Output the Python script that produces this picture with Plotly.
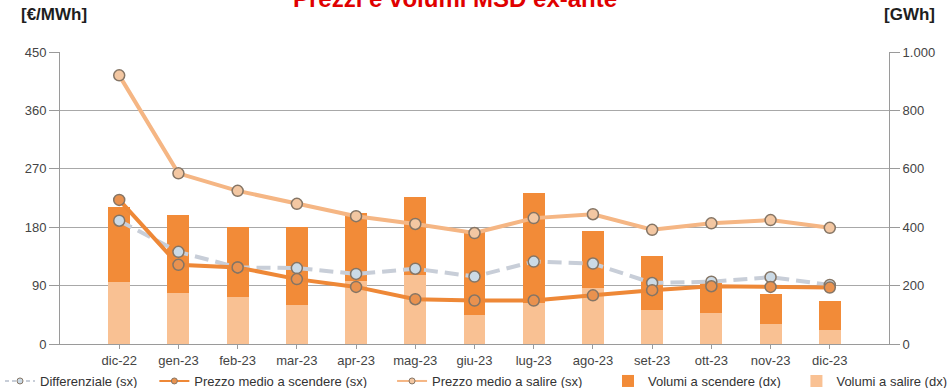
import plotly.graph_objects as go

# Monthly MSD ex-ante data
mesi = ["dic-22", "gen-23", "feb-23", "mar-23", "apr-23", "mag-23", "giu-23",
        "lug-23", "ago-23", "set-23", "ott-23", "nov-23", "dic-23"]

# Prices [€/MWh] (left axis)
prezzo_salire = [414, 263, 236, 216, 197, 185, 171, 194, 200, 176, 186, 191, 179]
prezzo_scendere = [222, 122, 118, 100, 88, 69, 67, 67, 75, 83, 89, 88, 87]
differenziale = [190, 142, 118, 117, 108, 116, 104, 127, 124, 94, 96, 103, 91]

# Volumes [GWh] (right axis)
volumi_salire = [212, 175, 161, 134, 216, 236, 99, 140, 192, 116, 106, 70, 48]
volumi_scendere = [257, 268, 241, 268, 233, 267, 291, 378, 195, 185, 103, 101, 99]

C_DARK = "#F28B38"
C_LIGHT = "#F9C193"
C_LINE_SAL = "#F5B684"
C_LINE_SCE = "#EE8837"
C_DIFF = "#C8CED8"
C_EDGE = "#857565"
M_DIFF = "#CBDAE6"
M_SCE = "#E9924F"
M_SAL = "#F3C7A2"

FONT = "Liberation Sans, Arial, sans-serif"

fig = go.Figure()

# Stacked volume bars on the base axis (drawn underneath the price lines)
fig.add_trace(go.Bar(x=mesi, y=volumi_salire, name="Volumi a salire (dx)",
                     marker=dict(color=C_LIGHT, line=dict(width=0)),
                     width=0.37, yaxis="y", legend="legend5"))
fig.add_trace(go.Bar(x=mesi, y=volumi_scendere, name="Volumi a scendere (dx)",
                     marker=dict(color=C_DARK, line=dict(width=0)),
                     width=0.37, yaxis="y", legend="legend4"))

# Price lines on the overlaying axis
series = [
    ("Differenziale (sx)", differenziale, C_DIFF, "14px,7px", M_DIFF, "legend"),
    ("Prezzo medio a scendere (sx)", prezzo_scendere, C_LINE_SCE, "solid", M_SCE, "legend2"),
    ("Prezzo medio a salire (sx)", prezzo_salire, C_LINE_SAL, "solid", M_SAL, "legend3"),
]
for name, vals, lc, dash, mc, lg in series:
    fig.add_trace(go.Scatter(x=mesi, y=vals, name=name, mode="lines+markers",
                             yaxis="y2", showlegend=False,
                             line=dict(color=lc, width=4, dash=dash),
                             marker=dict(size=11, color=mc,
                                         line=dict(color=C_EDGE, width=1.5))))
    # slimmer legend entry for the same series
    fig.add_trace(go.Scatter(x=[None], y=[None], name=name, mode="lines+markers",
                             yaxis="y2", legend=lg,
                             line=dict(color=lc, width=2,
                                       dash="4px,3px" if dash != "solid" else "solid"),
                             marker=dict(size=6, color=mc,
                                         line=dict(color=C_EDGE, width=1))))

tickfont = dict(family=FONT, size=13, color="#444444")
legfont = dict(family=FONT, size=13, color="#333333")

def leg(xpos):
    return dict(orientation="h", x=xpos, xref="container", y=0.018, yref="container",
                xanchor="left", yanchor="middle", font=legfont,
                bgcolor="rgba(0,0,0,0)", itemwidth=30)

fig.update_layout(
    width=947, height=388,
    margin=dict(l=60, r=58, t=52, b=44, autoexpand=False),
    paper_bgcolor="white", plot_bgcolor="white",
    barmode="stack", bargap=0,
    separators=",.",
    showlegend=True,
    legend=leg(0.0),
    legend2=leg(0.163),
    legend3=leg(0.414),
    legend4=leg(0.642),
    legend5=leg(0.841),
    xaxis=dict(type="category", range=[-1, 13], showgrid=False, automargin=False,
               showline=True, linecolor="#9A9A9A", linewidth=1,
               ticks="outside", ticklen=4, tickcolor="#9A9A9A",
               tickfont=tickfont, zeroline=False),
    yaxis=dict(side="right", range=[0, 1000], tickvals=[0, 200, 400, 600, 800, 1000],
               tickformat=",d", showgrid=True, gridcolor="#A8A8A8", gridwidth=1,
               automargin=False,
               showline=True, linecolor="#9A9A9A", ticks="outside", ticklen=10,
               tickcolor="#9A9A9A", tickfont=tickfont, zeroline=False),
    yaxis2=dict(side="left", overlaying="y", range=[0, 450], automargin=False,
                tickvals=[0, 90, 180, 270, 360, 450], showgrid=False,
                showline=True, linecolor="#9A9A9A", ticks="outside", ticklen=10,
                tickcolor="#9A9A9A", tickfont=tickfont, zeroline=False),
    annotations=[
        dict(text="<b>Prezzi e volumi MSD ex-ante</b>", xref="paper", yref="paper",
             x=0.477, y=1.13, xanchor="center", yanchor="bottom", showarrow=False,
             font=dict(family=FONT, size=24, color="#E00000")),
        dict(text="<b>[€/MWh]</b>", xref="paper", yref="paper", x=-0.007, y=1.127,
             xanchor="center", yanchor="middle", showarrow=False,
             font=dict(family=FONT, size=17, color="#1E1E1E")),
        dict(text="<b>[GWh]</b>", xref="paper", yref="paper", x=1.025, y=1.127,
             xanchor="center", yanchor="middle", showarrow=False,
             font=dict(family=FONT, size=17, color="#1E1E1E")),
    ],
)

fig.write_html("out.html")
